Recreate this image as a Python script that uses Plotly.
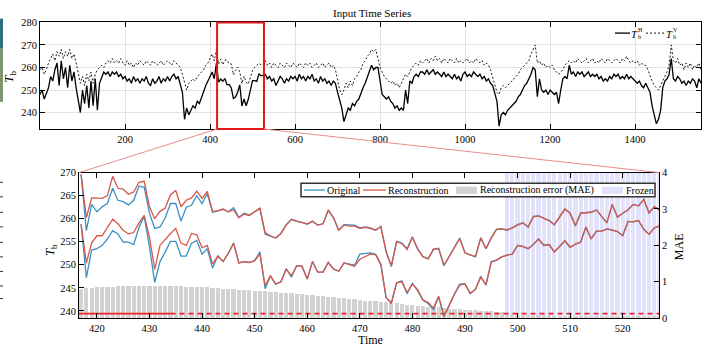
import plotly.graph_objects as go

W, H = 703, 353

# ---------------- data: top panel (every 5th time step) ----------------
top_start, top_step = 0, 5
tb_h = [
    248, 250, 246, 249, 251, 256, 254, 259, 262, 252, 263, 255, 260, 251, 261, 254, 258, 251, 245, 240,
    250, 244, 252, 242, 254, 243, 255, 241, 253, 256, 258, 257, 258, 256, 258, 257, 258, 256, 257, 255,
    256, 254, 255, 253, 256, 254, 255, 253, 255, 254, 256, 253, 252, 255, 253, 254, 256, 253, 255, 254,
    256, 254, 256, 257, 255, 256, 253, 249, 237, 242, 239, 241, 243, 242, 245, 244, 247, 249, 252, 254,
    256, 258, 255, 262, 253.5, 254.9, 253.9, 255.1, 252.3, 252.5, 250.9, 246.3, 246.9, 249.1, 252.3, 242.9, 246.0, 243.0, 245.9, 250.7,
    254.2, 254.2, 253.8, 257.3, 256.3, 256.6, 257, 255, 256, 254, 255, 252, 254, 256, 255, 253, 255, 254, 256, 255,
    256, 254, 257, 255, 256, 254, 256, 255, 257, 254, 255, 253, 256, 254, 255, 253, 254, 252, 254, 253,
    249, 245, 242, 236, 239, 242, 241, 244, 243, 245, 246, 249, 251, 253, 256, 259, 261, 259, 260, 260,
    254, 248, 247, 246, 247, 245, 244, 242, 243, 241, 242, 241, 250, 244, 254, 253, 256, 257, 256, 258,
    258, 257, 259, 257, 258, 259, 257, 258, 257, 256, 258, 256, 257, 256, 255, 257, 255, 256, 254, 257,
    258, 256, 257, 256, 258, 257, 256, 257, 255, 256, 254, 255, 253, 252, 249, 245, 234, 239, 240, 239,
    241, 242, 243, 244, 245, 247, 248, 250, 252, 253, 255, 257, 260, 259, 247, 255, 250, 249, 250, 248,
    250, 249, 248, 249, 244, 250, 255, 256, 255, 261, 257, 258, 256, 258, 257, 258, 256, 257, 258, 256,
    257, 256, 257, 255, 256, 254, 255, 254, 256, 255, 257, 256, 257, 255, 256, 255, 257, 255, 256, 255,
    254, 253, 254, 252, 251, 253, 251, 249, 243, 239, 235, 237, 241, 251, 254, 255, 257, 264, 255, 254,
    256, 255, 253, 254, 252, 254, 253, 255, 254, 251, 255, 253,
]
tb_v = [
    259, 260, 257, 259, 262, 264, 266, 263, 267, 265, 268, 264, 267, 265, 268, 264, 266, 262, 257, 253,
    256, 252, 257, 254, 258, 253, 257, 259, 260, 261, 260, 262, 263, 262, 264, 262, 263, 262, 264, 262,
    261, 263, 261, 262, 260, 262, 261, 263, 262, 261, 263, 262, 261, 263, 262, 261, 262, 263, 261, 262,
    263, 262, 261, 263, 262, 261, 260, 257, 253, 250, 253, 254, 255, 254, 256, 257, 258, 259, 261, 262,
    264, 266, 263, 268, 261.5, 263.7, 261.2, 263.3, 263.3, 261.6, 261.6, 256.8, 258.8, 260.2, 258.0, 252.8, 256.1, 253.5, 252.6, 255.9,
    258.7, 260.1, 261.2, 261.9, 261.2, 261.2, 263, 261, 262, 260, 262, 261, 260, 262, 261, 260, 262, 261, 260, 262,
    261, 260, 262, 261, 260, 262, 261, 262, 260, 261, 262, 260, 261, 262, 260, 261, 262, 260, 261, 259,
    254, 250, 248, 250, 253, 251, 254, 252, 255, 256, 258, 259, 262, 263, 265, 266, 268, 267, 268, 264,
    260, 258, 256, 255, 254, 253, 254, 252, 253, 251, 253, 255, 257, 256, 258, 260, 261, 262, 261, 263,
    262, 263, 264, 262, 264, 263, 265, 263, 264, 262, 264, 263, 262, 264, 263, 262, 264, 262, 263, 262,
    263, 264, 262, 263, 262, 264, 263, 262, 263, 261, 262, 261, 259, 256, 253, 249, 248, 251, 252, 251,
    252, 253, 254, 255, 256, 257, 259, 260, 261, 262, 263, 266, 268, 270, 262, 263, 261, 262, 260, 261,
    260, 261, 259, 258, 257, 258, 259, 261, 262, 263, 262, 263, 262, 264, 263, 262, 263, 264, 262, 263,
    264, 262, 263, 262, 264, 263, 262, 264, 263, 262, 263, 264, 263, 262, 264, 263, 265, 263, 262, 263,
    262, 263, 261, 262, 261, 261, 259, 256, 254, 252, 251, 250, 252, 254, 256, 258, 261, 270, 263, 262,
    264, 261, 262, 259, 262, 260, 262, 259, 261, 260, 262, 259,
]
top_xticks = [200, 400, 600, 800, 1000, 1200, 1400]
top_yticks = [240, 250, 260, 270, 280]

# ---------------- data: zoomed panel (time steps 417..527) ----------------
zoom_start = 417
orig_v = [
    269.6, 257.4, 263.1, 261.5, 262.6, 263.3, 266.6, 264.0, 263.7, 263.0,
    264.0, 267.1, 266.8, 261.2, 257.9, 258.2, 260.2, 263.3, 263.3, 259.5,
    262.5, 262.9, 265.0, 263.3, 265.4, 261.4, 261.7, 262.0, 261.5, 262.4,
    260.3, 261.2, 260.8, 261.6, 262.2, 256.6, 256.2, 255.8, 256.8, 258.7,
    259.8, 259.4, 259.2, 258.8, 259.4, 258.6, 258.9, 261.8, 260.2, 257.5,
    258.7, 258.6, 258.6, 258.0, 258.2, 258.0, 257.5, 258.3, 252.8, 249.6,
    255.1, 254.7, 253.5, 256.1, 253.5, 251.7, 251.3, 253.3, 253.5, 249.8,
    251.7, 253.8, 255.8, 252.6, 252.1, 251.7, 255.9, 253.5, 255.9, 257.7,
    257.8, 257.5, 258.0, 258.7, 259.1, 258.2, 260.5, 260.6, 260.1, 259.6,
    258.7, 260.5, 262.1, 261.2, 258.4, 261.2, 261.3, 261.4, 261.9, 260.5,
    259.1, 263.1, 260.3, 261.2, 261.9, 263.1, 262.8, 264.2, 261.2, 262.6,
    261.9,
]
recon_v = [
    269.6, 260.2, 264.5, 264.4, 264.4, 265.0, 269.2, 266.6, 266.4, 265.3,
    265.8, 267.9, 268.1, 262.6, 260.0, 261.6, 262.3, 265.2, 266.1, 262.6,
    264.0, 264.5, 266.0, 264.4, 265.9, 261.6, 261.7, 262.1, 261.5, 261.9,
    260.2, 261.0, 260.7, 261.5, 262.3, 257.0, 256.3, 255.8, 256.8, 258.6,
    259.9, 259.5, 259.2, 258.9, 259.5, 258.6, 258.9, 261.9, 260.2, 257.5,
    258.6, 258.4, 258.4, 257.9, 258.1, 257.9, 257.5, 258.3, 252.9, 249.8,
    255.0, 254.6, 253.3, 256.0, 253.4, 251.8, 251.3, 253.4, 253.6, 249.9,
    251.8, 253.7, 255.7, 252.6, 252.1, 251.8, 255.8, 253.5, 255.8, 257.7,
    257.8, 257.6, 258.0, 258.6, 259.1, 258.2, 260.4, 260.6, 260.1, 259.6,
    258.7, 260.4, 262.1, 261.2, 258.5, 261.2, 261.3, 261.4, 261.9, 260.5,
    259.1, 263.1, 260.3, 261.2, 261.9, 263.1, 262.8, 264.2, 261.3, 262.6,
    261.9,
]
orig_h = [
    258.8, 247.2, 253.2, 253.5, 254.2, 255.6, 257.4, 256.7, 254.9, 254.9,
    254.4, 258.1, 260.5, 253.9, 246.2, 250.7, 252.8, 255.1, 255.1, 251.9,
    251.9, 254.7, 255.3, 252.3, 253.5, 249.3, 251.9, 250.7, 252.5, 254.7,
    250.4, 250.7, 250.5, 250.9, 252.8, 244.8, 247.6, 245.8, 246.3, 249.1,
    247.3, 249.8, 249.7, 246.9, 250.7, 248.4, 248.4, 250.5, 249.1, 248.6,
    250.4, 250.1, 249.9, 252.3, 252.4, 252.6, 252.3, 250.2, 242.9, 241.8,
    246.1, 246.5, 243.7, 246.0, 244.4, 242.3, 241.6, 240.3, 243.0, 238.8,
    241.2, 243.7, 245.8, 245.9, 243.7, 244.7, 247.5, 245.6, 250.7, 251.0,
    251.7, 252.1, 252.3, 254.2, 254.0, 253.5, 254.4, 255.6, 254.2, 254.4,
    252.8, 254.0, 255.2, 253.8, 254.5, 254.9, 258.2, 255.6, 257.3, 257.3,
    257.8, 257.5, 257.2, 256.3, 259.4, 259.3, 259.6, 257.7, 256.6, 258.0,
    258.4,
]
recon_h = [
    258.8, 250.4, 254.7, 256.3, 256.3, 258.1, 259.9, 258.9, 257.5, 256.7,
    257.0, 259.1, 260.7, 256.0, 249.0, 254.2, 255.6, 256.8, 257.9, 254.7,
    254.2, 256.8, 256.5, 253.7, 254.2, 250.2, 251.9, 250.7, 252.5, 254.7,
    250.4, 250.7, 250.5, 250.9, 252.3, 245.5, 247.6, 245.8, 246.3, 249.1,
    247.6, 249.8, 249.7, 246.9, 250.7, 248.4, 248.4, 250.5, 249.1, 248.6,
    250.4, 250.0, 249.7, 251.2, 251.8, 252.3, 252.2, 250.0, 242.9, 241.6,
    246.1, 246.3, 244.0, 245.8, 244.6, 242.4, 241.8, 240.6, 243.2, 238.8,
    241.2, 243.6, 245.6, 245.8, 243.8, 244.7, 247.3, 245.7, 250.6, 251.0,
    251.7, 252.1, 252.3, 254.2, 254.0, 253.5, 254.4, 255.6, 254.2, 254.4,
    252.8, 254.0, 255.2, 253.8, 254.5, 254.9, 258.2, 255.6, 257.3, 257.3,
    257.8, 257.5, 257.2, 256.3, 259.4, 259.3, 259.6, 257.7, 256.6, 258.0,
    258.4,
]
mae = [
    0.82, 0.83, 0.84, 0.85, 0.86, 0.87, 0.87, 0.88, 0.88, 0.89,
    0.89, 0.89, 0.89, 0.89, 0.89, 0.89, 0.89, 0.88, 0.88, 0.88,
    0.87, 0.87, 0.86, 0.86, 0.85, 0.84, 0.83, 0.82, 0.81, 0.80,
    0.79, 0.78, 0.77, 0.76, 0.75, 0.74, 0.73, 0.72, 0.71, 0.70,
    0.69, 0.67, 0.66, 0.65, 0.63, 0.62, 0.61, 0.59, 0.58, 0.56,
    0.55, 0.53, 0.52, 0.51, 0.49, 0.48, 0.47, 0.45, 0.44, 0.42,
    0.41, 0.39, 0.38, 0.36, 0.35, 0.34, 0.32, 0.31, 0.30, 0.29,
    0.27, 0.26, 0.25, 0.24, 0.23, 0.22, 0.21, 0.20, 0.19, 0.18,
    0.17, 0.09, 0.09, 0.09, 0.08, 0.08, 0.08, 0.08, 0.08, 0.08,
    0.07, 0.07, 0.07, 0.07, 0.07, 0.07, 0.07, 0.07, 0.07, 0.06,
    0.06, 0.06, 0.06, 0.06, 0.06, 0.06, 0.06, 0.06, 0.06, 0.06,
    0.06,
]
mae_threshold = 0.12
threshold_solid_until = 434
frozen_from = 498
bot_xticks = [420, 430, 440, 450, 460, 470, 480, 490, 500, 510, 520]
bot_yticks = [240, 245, 250, 255, 260, 265, 270]
mae_ticks = [0, 1, 2, 3, 4]

# ---------------- layout geometry ----------------
def pxx(p):
    return p / W

def pxy(p):
    return 1 - p / H

top_dom_x = [pxx(40), pxx(701)]
top_dom_y = [pxy(128), pxy(18)]
bot_dom_x = [pxx(79), pxx(659)]
bot_dom_y = [pxy(323), pxy(173)]
top_xr = [0, 1555]
top_yr = [232.7, 280]
bot_xr = [416.6, 526.9]
bot_yr = [238.47, 270]
mae_r = [0, 4]

FONT = "Liberation Serif"
BLUE = "#3a8fc6"
RED = "#d6584a"
GRAY = "#d2d2d2"
LAV = "#e2e2fa"
THR = "#f0202a"
TOP_DASH = "2px,2px"

t_top = [top_start + i * top_step for i in range(len(tb_h))]
t_zoom = [zoom_start + i for i in range(len(orig_v))]
frozen_x = [t for t in t_zoom if t >= frozen_from]

fig = go.Figure()

# top panel
fig.add_trace(go.Scatter(x=t_top, y=tb_h, mode="lines", name="T_b^H",
                         line=dict(color="black", width=1.3), xaxis="x", yaxis="y"))
fig.add_trace(go.Scatter(x=t_top, y=tb_v, mode="lines", name="T_b^V",
                         line=dict(color="black", width=0.9, dash=TOP_DASH), xaxis="x", yaxis="y"))

# bottom panel bars (MAE axis)
fig.add_trace(go.Bar(x=frozen_x, y=[mae_r[1]] * len(frozen_x), width=0.8,
                     marker=dict(color=LAV, line=dict(width=0)), name="Frozen", xaxis="x2", yaxis="y2"))
fig.add_trace(go.Bar(x=t_zoom, y=mae, width=0.8, marker=dict(color=GRAY, line=dict(width=0)),
                     name="Reconstruction error (MAE)", xaxis="x2", yaxis="y2"))
fig.add_trace(go.Scatter(x=[bot_xr[0], threshold_solid_until], y=[mae_threshold, mae_threshold], mode="lines",
                         line=dict(color=THR, width=1.6), xaxis="x2", yaxis="y2"))
fig.add_trace(go.Scatter(x=[threshold_solid_until, bot_xr[1]], y=[mae_threshold, mae_threshold], mode="lines",
                         line=dict(color=THR, width=1.6, dash="5px,4px"), xaxis="x2", yaxis="y2"))

# bottom panel lines (T_b axis, drawn on top)
for series, col, nm in [(orig_v, BLUE, "Original"), (orig_h, BLUE, "Original"),
                        (recon_v, RED, "Reconstruction"), (recon_h, RED, "Reconstruction")]:
    fig.add_trace(go.Scatter(x=t_zoom, y=series, mode="lines", line=dict(color=col, width=1.3), name=nm,
                             xaxis="x2", yaxis="y3"))

tickfont = dict(family=FONT, size=10.5, color="black")
common = dict(showline=True, linecolor="black", linewidth=1, ticks="inside", tickcolor="black",
              tickwidth=1, zeroline=False, tickfont=tickfont, ticklen=5)

def top_x_paper(t):
    return top_dom_x[0] + (t - top_xr[0]) / (top_xr[1] - top_xr[0]) * (top_dom_x[1] - top_dom_x[0])

def hline(x0, x1, y, color, width, dash=None):
    ln = dict(color=color, width=width)
    if dash:
        ln["dash"] = dash
    return dict(type="line", xref="paper", yref="paper", x0=pxx(x0), x1=pxx(x1), y0=pxy(y), y1=pxy(y), line=ln)

def box(x0, x1, y0, y1, fill, lc=None, lw=0):
    return dict(type="rect", xref="paper", yref="paper", x0=pxx(x0), x1=pxx(x1), y0=pxy(y1), y1=pxy(y0),
                fillcolor=fill, line=dict(color=lc or fill, width=lw))

shapes = [
    dict(type="rect", xref="x", yref="y domain", x0=bot_xr[0], x1=bot_xr[1], y0=0, y1=1,
         line=dict(color="#e01818", width=2), layer="above"),
    dict(type="line", xref="paper", yref="paper", x0=top_x_paper(bot_xr[0]), y0=top_dom_y[0],
         x1=bot_dom_x[0], y1=bot_dom_y[1], line=dict(color="#ee8a8a", width=1)),
    dict(type="line", xref="paper", yref="paper", x0=top_x_paper(bot_xr[1]), y0=top_dom_y[0],
         x1=bot_dom_x[1], y1=bot_dom_y[1], line=dict(color="#ee8a8a", width=1)),
    # cropped neighbour figure slivers at the left edge
    box(0, 3, 14, 45, "#2f6f80"),
    box(0, 3, 45, 100, "#7f9470"),
    # top legend samples
    hline(615, 630, 29, "black", 1.3),
    hline(646, 664, 29, "black", 0.9, TOP_DASH),
    # bottom legend frame and samples
    box(301, 655, 184, 198, "white", "#333333", 1.5),
    hline(304, 325, 191, BLUE, 1.3),
    hline(363, 386, 191, RED, 1.3),
    box(456, 477, 187.5, 195, GRAY),
    box(602, 623, 187.5, 195, LAV),
]
for yy in [183, 198, 214, 229, 245, 260, 275, 290, 303]:
    shapes.append(hline(0, 3, yy, "#333333", 1))

def label(text, x, y, size=11, angle=0, anchor="center"):
    return dict(text=text, x=pxx(x), y=pxy(y), xref="paper", yref="paper", showarrow=False,
                textangle=angle, font=dict(family=FONT, size=size, color="black"),
                xanchor=anchor, yanchor="middle", borderpad=0)

annotations = [
    label("Input Time Series", 372, 8, 11),
    label("<i>T</i><sub>b</sub>", 10, 74, 13, -90),
    label("<i>T</i><sub>b</sub>", 50, 253, 13, -90),
    label("MAE", 679, 250, 12, -90),
    label("Time", 370, 346, 12),
    # top legend texts: T with stacked sub/superscripts
    label("<i>T</i>", 630, 30, 10.5, 0, "left"),
    label("H", 636.5, 25.5, 6, 0, "left"),
    label("b", 636.5, 33, 6.5, 0, "left"),
    label("<i>T</i>", 665, 30, 10.5, 0, "left"),
    label("V", 671.5, 25.5, 6, 0, "left"),
    label("b", 671.5, 33, 6.5, 0, "left"),
    # bottom legend texts
    label("Original", 326, 191, 10, 0, "left"),
    label("Reconstruction", 387, 191, 10, 0, "left"),
    label("Reconstruction error (MAE)", 479, 191, 10, 0, "left"),
    label("Frozen", 624.5, 191, 10, 0, "left"),
]

fig.update_layout(
    width=W, height=H, margin=dict(l=0, r=0, t=0, b=0),
    paper_bgcolor="white", plot_bgcolor="white",
    font=dict(family=FONT, color="black"),
    barmode="overlay", bargap=0, showlegend=False,
    xaxis=dict(domain=top_dom_x, anchor="y", range=top_xr, tickvals=top_xticks, mirror="ticks",
               showgrid=True, gridcolor="#e2e2e2", **common),
    yaxis=dict(domain=top_dom_y, anchor="x", range=top_yr, tickvals=top_yticks, mirror="ticks",
               showgrid=True, gridcolor="#e2e2e2", **common),
    xaxis2=dict(domain=bot_dom_x, anchor="y2", range=bot_xr, tickvals=bot_xticks, mirror="ticks",
                showgrid=False, **common),
    yaxis2=dict(domain=bot_dom_y, anchor="x2", side="right", range=mae_r, tickvals=mae_ticks,
                showgrid=False, **common),
    yaxis3=dict(overlaying="y2", anchor="x2", side="left", range=bot_yr, tickvals=bot_yticks,
                showgrid=False, **common),
    shapes=shapes, annotations=annotations,
)

fig.write_html("out.html")
